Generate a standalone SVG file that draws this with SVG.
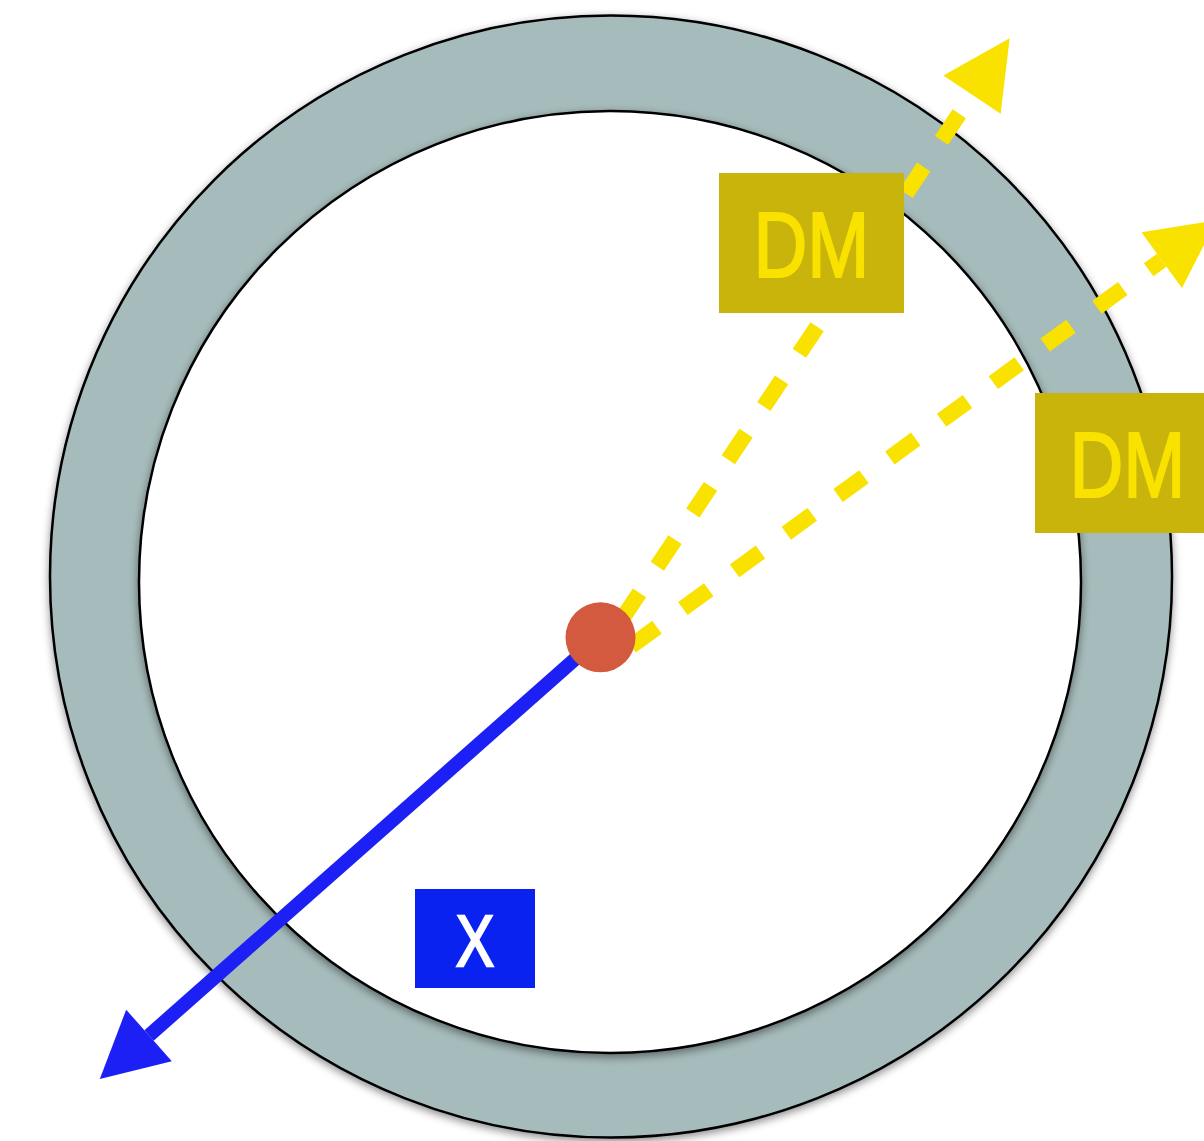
<svg xmlns="http://www.w3.org/2000/svg" width="1204" height="1141" viewBox="0 0 1204 1141">
  <defs>
    <filter id="shadow" x="-10%" y="-10%" width="120%" height="120%">
      <feDropShadow dx="0" dy="3" stdDeviation="4" flood-color="#000" flood-opacity="0.45"/>
    </filter>
    <marker id="headY" markerUnits="userSpaceOnUse" markerWidth="70" markerHeight="70" refX="0" refY="31.5" orient="auto" viewBox="0 0 64 63" overflow="visible">
      <path d="M0,0 L62,31.5 L0,63 z" fill="#F9E100"/>
    </marker>
    <marker id="headB" markerUnits="userSpaceOnUse" markerWidth="70" markerHeight="70" refX="0" refY="31.5" orient="auto" viewBox="0 0 64 63" overflow="visible">
      <path d="M0,0 L60,31.5 L0,63 z" fill="#1C20F4"/>
    </marker>
    <style>
      .ring { fill: #A6BBBB; stroke: #000; stroke-width: 2.5; }
      .hole { fill: #FFFFFF; stroke: #000; stroke-width: 2.5; }
      .dm-box { fill: #C8B40A; }
      .dm-text { font-family: "Liberation Sans", "DejaVu Sans", sans-serif; font-size: 93px; fill: #F9E100; stroke: #F9E100; stroke-width: 2; text-anchor: middle; }
      .x-box { fill: #0A22F0; }
      .x-text { font-family: "Liberation Sans", "DejaVu Sans", sans-serif; font-size: 73px; fill: #FFFFFF; stroke: #FFFFFF; stroke-width: 2.5; text-anchor: middle; }
      .dash { fill: none; stroke: #F9E100; stroke-width: 16; stroke-dasharray: 32 32; }
      .blue { fill: none; stroke: #1C20F4; stroke-width: 14; }
    </style>
  </defs>

  <g id="ring">
    <circle class="ring" cx="611" cy="576.5" r="561" filter="url(#shadow)"/>
    <circle class="hole" cx="610" cy="582" r="471" filter="url(#shadow)"/>
  </g>

  <g id="connectors">
    <line class="dash" x1="604" y1="646" x2="972" y2="94.7" stroke-dashoffset="32.1" marker-end="url(#headY)"/>
    <line class="dash" x1="620" y1="654.2" x2="1161.7" y2="260.2" stroke-dashoffset="50.3" marker-end="url(#headY)"/>
    <line class="blue" x1="600" y1="637" x2="149" y2="1035.5" marker-end="url(#headB)"/>
  </g>

  <g id="dm1">
    <rect class="dm-box" x="719" y="173" width="185" height="140"/>
    <text class="dm-text" x="811.5" y="277" textLength="116" lengthAdjust="spacingAndGlyphs">DM</text>
  </g>

  <g id="dm2">
    <rect class="dm-box" x="1035" y="393" width="169" height="140"/>
    <text class="dm-text" x="1127.5" y="497" textLength="116" lengthAdjust="spacingAndGlyphs">DM</text>
  </g>

  <g id="x">
    <rect class="x-box" x="415" y="889" width="120" height="99"/>
    <text class="x-text" x="475" y="966" textLength="38" lengthAdjust="spacingAndGlyphs">X</text>
  </g>

  <g id="center">
    <circle cx="600.5" cy="637.3" r="35" fill="#D35A3E"/>
  </g>
</svg>
